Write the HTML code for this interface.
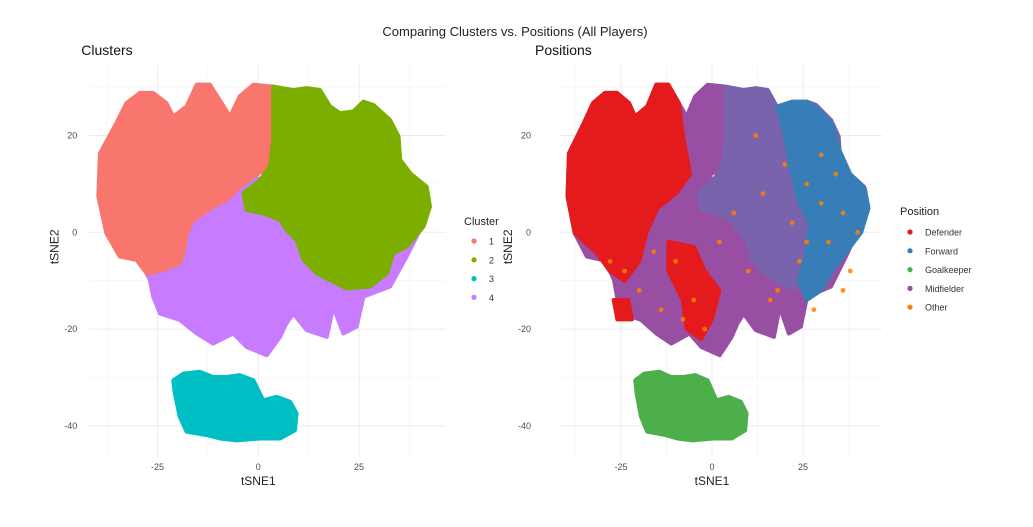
<!DOCTYPE html>
<html><head><meta charset="utf-8"><style>
body{margin:0;background:#fff;font-family:"Liberation Sans",sans-serif}
svg text{font-family:"Liberation Sans",sans-serif}
</style></head><body>
<svg id="c" width="1033" height="522" viewBox="0 0 1033 522">
<rect width="1033" height="522" fill="#fff"/>
<text x="515" y="36" text-anchor="middle" font-size="13" fill="#222">Comparing Clusters vs. Positions (All Players)</text>
<g id="L"></g>
<g id="R"></g>
</svg>
<script>
const xTicks=[-25,0,25];
const yTicks=[20,0,-20,-40];
const xMinor=[-37.5,-12.5,12.5,37.5];
const yMinor=[30,10,-10,-30];
const clusterNames=["1","2","3","4"];
const clusterColors=["#F8766D","#7CAE00","#00BFC4","#C77CFF"];
const positionNames=["Defender","Forward","Goalkeeper","Midfielder","Other"];
const positionColors=["#E41A1C","#377EB8","#4DAF4A","#984EA3","#FF7F00"];
// region outlines (data coords) traced from point clouds
const cluster1=[[-37.7,-0.2],[-39.7,7.4],[-39.3,16.3],[-35.2,22.6],[-32.7,26.7],[-29.4,28.8],[-26.1,28.8],[-22.8,26.7],[-21.1,23.9],[-17.8,26],[-15.3,30.5],[-12,30.5],[-9.1,26.7],[-7,23.9],[-4.6,28.1],[-1.2,30.5],[3.7,30.1],[4.6,26],[3.7,19.1],[2.9,13.6],[-1.2,11.5],[-4.6,9.4],[-7.9,6.7],[-11.2,5.3],[-16.1,2.6],[-17.8,-0.2],[-18.6,-4.3],[-19.5,-6.4],[-23.6,-7.8],[-27.7,-8.5],[-30.2,-5.7],[-34.4,-5]];
const cluster2=[[3.7,30.1],[8.7,29.4],[12,29.8],[15.3,29.4],[17.8,26],[20.3,24.6],[23.6,25],[26.1,27],[28.6,26.3],[32.7,23.2],[34.8,19.8],[35.2,15],[37.7,12.2],[41.8,9.4],[42.6,5.3],[41,1.2],[36.8,-3],[33.5,-4.3],[31.9,-8.5],[27.7,-11.2],[21.9,-11.6],[17.8,-9.9],[14.5,-8.5],[11.2,-5.7],[9.5,-1.6],[7,0.5],[5.4,2.6],[1.2,3.9],[-2.9,4.6],[-3.7,8.1],[0.4,10.8],[2.9,13.6],[3.7,19.1]];
const cluster3=[[-21.1,-30.6],[-18.6,-29.2],[-14.5,-28.8],[-11.2,-29.9],[-7.9,-29.9],[-4.6,-29.5],[-1.2,-30.6],[1.2,-34.7],[4.6,-34],[7.9,-35],[9.5,-37.4],[9.1,-40.9],[5.4,-42.6],[0.4,-42.6],[-5.4,-43],[-9.5,-42.6],[-12.8,-41.9],[-17.8,-41.2],[-19.5,-38.1],[-20.7,-33.3]];
const cluster4=[[-29.4,-5.7],[-25.2,1.2],[-17,3.9],[-7.9,6.7],[-4.6,11.5],[3.7,10.8],[7,6.7],[8.7,1.2],[12,-4.3],[20.3,-9.9],[28.6,-10.6],[33.5,-4.3],[38.5,-0.2],[41,1.9],[36.8,-5],[32.7,-11.2],[26.1,-13.3],[24.4,-19.5],[21.1,-20.9],[18.6,-15.4],[17,-21.6],[12,-20.2],[8.7,-16.8],[7,-18.8],[5.4,-21.6],[2.1,-25.4],[-2.9,-23.7],[-6.2,-20.9],[-11.2,-23],[-15.3,-20.9],[-19.5,-18.1],[-24.4,-16.8],[-26.1,-13.3],[-26.9,-9.9]];
const defenderA=[[-37.7,-0.2],[-39.7,7.4],[-39.3,16.3],[-35.2,22.6],[-32.7,26.7],[-29.4,28.8],[-26.1,28.8],[-22.8,26.7],[-21.1,23.9],[-17.8,26],[-15.3,30.5],[-12,30.5],[-9.1,26.7],[-8,20],[-6,12],[-10,8],[-15,5],[-18,0],[-20,-6],[-24,-10],[-28,-8],[-32,-4]];
const defenderB=[[-12,-2],[-5,-3],[-2,-8],[2,-12],[0,-18],[-3,-22],[-7,-20],[-8,-14],[-12,-8]];
const defenderC=[[-27,-14],[-23,-14],[-22,-18],[-26,-18]];
const forward=[[18,26],[22,27],[26,27],[30,25],[33,22],[35,17],[38,12],[42,9],[43,5],[41,0],[37,-4],[33,-8],[30,-12],[26,-14],[24,-10],[26,-4],[27,2],[24,6],[22,12],[20,20]];
const otherX=[-24,-20,-14,-10,-5,2,6,10,14,18,20,22,24,26,28,30,32,34,36,38,40,-28,-16,-8,16,30,36,12,-2,26];
const otherY=[-8,-12,-16,-6,-14,-2,4,-8,8,-12,14,2,-6,10,-16,6,-2,12,4,-8,0,-6,-4,-18,-14,16,-12,20,-20,-2];

const NS="http://www.w3.org/2000/svg";
function mk(tag,attrs,parent){const e=document.createElementNS(NS,tag);for(const k in attrs)e.setAttribute(k,attrs[k]);parent.appendChild(e);return e;}
function panel(g,x0,kx,title,legTitle,names,colors,legX,legY0,legTitleY){
  const sx=v=>x0+kx*v, sy=v=>232.3-4.84*v;
  const xl=sx(-42), xr=sx(46.6), yt=sy(34.6), yb=sy(-46.4);
  xMinor.forEach(v=>{const l=mk('line',{x1:sx(v),x2:sx(v),y1:yt,y2:yb,stroke:'#f3f3f3','stroke-width':0.6},g);});
  yMinor.forEach(v=>{const l=mk('line',{x1:xl,x2:xr,y1:sy(v),y2:sy(v),stroke:'#f3f3f3','stroke-width':0.6},g);});
  xTicks.forEach(v=>{const l=mk('line',{x1:sx(v),x2:sx(v),y1:yt,y2:yb,stroke:'#ebebeb','stroke-width':1},g);
    const t=mk('text',{x:sx(v),y:470,'text-anchor':'middle','font-size':9,fill:'#4d4d4d'},g);t.textContent=v;});
  yTicks.forEach(v=>{const l=mk('line',{x1:xl,x2:xr,y1:sy(v),y2:sy(v),stroke:'#ebebeb','stroke-width':1},g);
    const t=mk('text',{x:x0-181,y:sy(v)+3,'text-anchor':'end','font-size':9,fill:'#4d4d4d'},g);t.textContent=v;});
  const pt=mk('text',{x:x0-177,y:55,'font-size':14,fill:'#111'},g);pt.textContent=title;
  const xt=mk('text',{x:sx(0),y:485,'text-anchor':'middle','font-size':12,fill:'#222'},g);xt.textContent='tSNE1';
  const yx=x0-200;const yt2=mk('text',{x:yx,y:sy(-3),'text-anchor':'middle','font-size':12,fill:'#222',transform:`rotate(-90 ${yx} ${sy(-3)})`},g);yt2.textContent='tSNE2';
  const lt=mk('text',{x:legX-10,y:legTitleY,'font-size':11,fill:'#222'},g);lt.textContent=legTitle;
  names.forEach((n,i)=>{const y=legY0+i*18.8;
    const c=mk('circle',{cx:legX,cy:y,r:2.6,fill:colors[i]},g);
    const t=mk('text',{x:legX+15,y:y+3.5,'font-size':9,fill:'#333'},g);t.textContent=n;});
  return {sx,sy};
}
function poly(g,pts,color,sx,sy,name,op){
  const p=mk('polygon',{points:pts.map(d=>sx(d[0])+','+sy(d[1])).join(' '),fill:color,stroke:color,'stroke-width':4,'stroke-linejoin':'round','fill-opacity':op||1,'stroke-opacity':op||1},g);
  
  
}
const L=document.getElementById('L'),R=document.getElementById('R');
const a=panel(L,258.3,4.03,'Clusters','Cluster',clusterNames,clusterColors,474,241,225);
poly(L,cluster4,clusterColors[3],a.sx,a.sy,'cluster-4-points');
poly(L,cluster1,clusterColors[0],a.sx,a.sy,'cluster-1-points');
poly(L,cluster2,clusterColors[1],a.sx,a.sy,'cluster-2-points');
poly(L,cluster3,clusterColors[2],a.sx,a.sy,'cluster-3-points');
const b=panel(R,712,3.64,'Positions','Position',positionNames,positionColors,910,232,215);
poly(R,cluster4,positionColors[3],b.sx,b.sy,'midfielder-points');
poly(R,cluster1,positionColors[3],b.sx,b.sy,'midfielder-points');
poly(R,cluster2,'#7a63ad',b.sx,b.sy,'midfielder-forward-points');
poly(R,defenderA,positionColors[0],b.sx,b.sy,'defender-points');
poly(R,defenderB,positionColors[0],b.sx,b.sy,'defender-points');
poly(R,defenderC,positionColors[0],b.sx,b.sy,'defender-points');
poly(R,forward,positionColors[1],b.sx,b.sy,'forward-points');
poly(R,cluster3,positionColors[2],b.sx,b.sy,'goalkeeper-points');
otherX.forEach((x,i)=>{const c=mk('circle',{cx:b.sx(x),cy:b.sy(otherY[i]),r:2.4,fill:positionColors[4],'fill-opacity':0.85},R);
  
  });
</script>
</body></html>
